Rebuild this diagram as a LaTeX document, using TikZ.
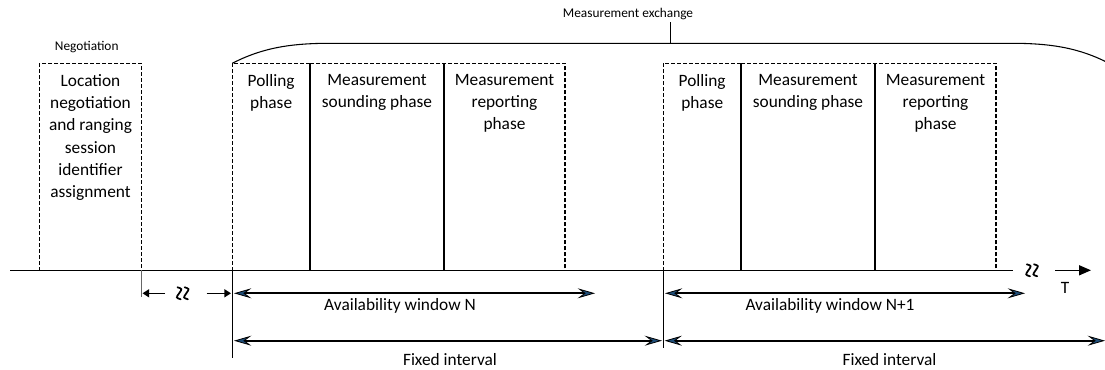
\documentclass[tikz,border=0pt]{standalone}
\usepackage{fontspec}
\setmainfont{Carlito}
\usetikzlibrary{arrows.meta,calc}

\definecolor{headblue}{RGB}{31,78,121}
\tikzset{
  phasebox/.style={draw,line width=1pt,dash pattern=on 3pt off 1.5pt},
  phasetext/.style={anchor=north,align=center,inner sep=0pt,font=\fontsize{13}{16.7}\selectfont},
  smalltext/.style={anchor=base,inner sep=0pt,font=\fontsize{10}{12}\selectfont},
  labeltext/.style={anchor=base,inner sep=0pt,font=\fontsize{13}{15}\selectfont},
  bluehead/.tip={Stealth[length=13pt,width=7.5pt,inset=5pt,fill=headblue,line width=0.6pt]},
  window/.style={line width=1.3pt,bluehead-bluehead},
  gaparrow/.style={line width=1.1pt,-{Triangle[length=5pt,width=6pt]}},
  squiggle/.style={line width=1.3pt,line cap=round}
}

\begin{document}
\begin{tikzpicture}[x=0.75pt,y=-0.75pt]
\useasboundingbox (0,0) rectangle (1105,370);

\coordinate (tstart) at (10,270.3);
\coordinate (tend) at (1013,270.3);
\draw[line width=1.1pt] (tstart) -- (tend);
\coordinate (tfrom) at (1055,270.3);
\coordinate (tto) at (1091,270.3);
\draw[line width=1.1pt,-{Triangle[length=9pt,width=7.5pt]}] (tfrom) -- (tto);
\node[labeltext] (tlabel) at (1065,293.3) {T};

\foreach \cx/\cy in {182.7/293.3,1032/270.3}
  \foreach \o in {-3.6,3.6}
    \draw[squiggle] (\cx+\o-1.6,\cy-6) .. controls (\cx+\o+3.2,\cy-4.5) .. (\cx+\o,\cy)
      .. controls (\cx+\o-3.2,\cy+4.5) .. (\cx+\o+1.6,\cy+6);

\draw[phasebox] (39.3,63.3) rectangle (141.7,270.3);
\node[phasetext] (nego) at (90.5,74) {Location\\negotiation\\and ranging\\session\\identifier\\assignment};
\node[smalltext] (negolabel) at (86.7,50.5) {Negotiation};

\foreach \dx/\n in {0/1,431/2} {
  \draw[phasebox] (232.3+\dx,63.3) rectangle (310+\dx,270.3);
  \draw[phasebox] (310+\dx,63.3) rectangle (444+\dx,270.3);
  \draw[phasebox] (444+\dx,63.3) rectangle (565+\dx,270.3);
  \node[phasetext] (poll\n) at (271.2+\dx,74) {Polling\\phase};
  \node[phasetext] (sound\n) at (377+\dx,74) {Measurement\\sounding phase};
  \node[phasetext] (report\n) at (504.5+\dx,74) {Measurement\\reporting\\phase};
}

\draw[line width=0.8pt] (232.3,63.3) .. controls (262,48) and (290,43.3) .. (330,43.3)
  -- (1011.4,43.3) .. controls (1051.4,43.3) and (1079.4,48) .. (1109,63.3);
\coordinate (bracetip) at (670.7,21.7);
\draw[line width=1pt] (670.7,43.3) -- (bracetip);
\node[smalltext] (exchange) at (628,17.7) {Measurement exchange};

\coordinate (mgap) at (141.7,297);
\coordinate (mN) at (232.3,358);
\coordinate (mN1) at (663.3,348);
\draw[black!60,line width=0.7pt] (141.7,270.3) -- (mgap);
\draw[line width=0.7pt] (232.3,270.3) -- (mN);
\draw[line width=0.7pt] (663.3,270.3) -- (mN1);

\coordinate (gapa) at (165,293.3);
\coordinate (gapb) at (142.5,293.3);
\coordinate (gapc) at (206.7,293.3);
\coordinate (gapd) at (231,293.3);
\draw[gaparrow] (gapa) -- (gapb);
\draw[gaparrow] (gapc) -- (gapd);

\coordinate (wNa) at (234,293.3);
\coordinate (wNb) at (595,293.3);
\coordinate (wN1a) at (665,293.3);
\coordinate (wN1b) at (1025,293.3);
\draw[window] (wNa) -- (wNb);
\draw[window] (wN1a) -- (wN1b);
\node[labeltext] (wNlabel) at (400,310.7) {Availability window N};
\node[labeltext] (wN1label) at (830,310.7) {Availability window N+1};

\coordinate (fa) at (234,340.7);
\coordinate (fb) at (662,340.7);
\coordinate (fc) at (664.6,340.7);
\coordinate (fd) at (1105,340.7);
\draw[window] (fa) -- (fb);
\draw[window] (fc) -- (fd);
\node[labeltext] (flabel1) at (450,365.5) {Fixed interval};
\node[labeltext] (flabel2) at (889.5,365.5) {Fixed interval};

\end{tikzpicture}
\end{document}
